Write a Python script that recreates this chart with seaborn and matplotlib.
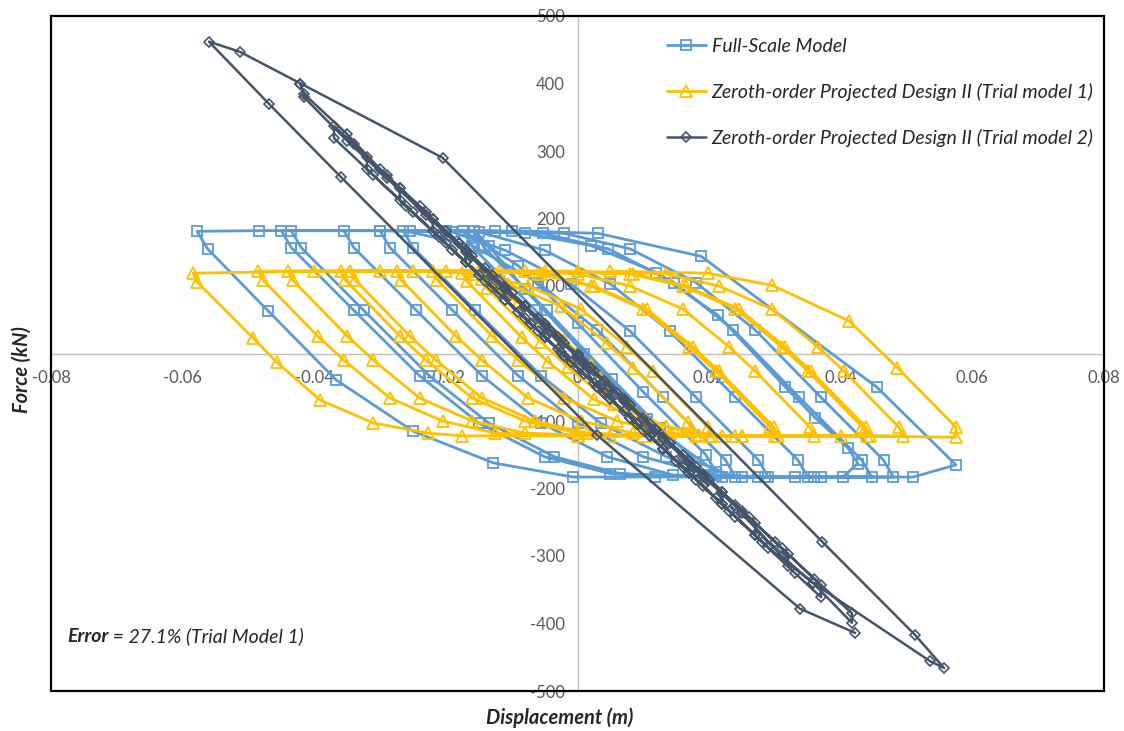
import matplotlib
matplotlib.use("Agg")
import matplotlib.pyplot as plt
from matplotlib.patches import Rectangle
import seaborn as sns

###############################################################################
# data (displacement in m, force in kN)

# Full-Scale Model
fs_disp = [0.0, 0.006, 0.012,
           0.0105, 0.001, -0.008, -0.0135, -0.0157,
           -0.0142, -0.0047, 0.0053, 0.014, 0.021,
           0.0195, 0.010, 0.000, -0.009, -0.0174,
           -0.0159, -0.0064, 0.0036, 0.0126, 0.018, 0.024,
           0.0225, 0.013, 0.003, -0.006, -0.016, -0.0265,
           -0.025, -0.0155, -0.0055, 0.0035, 0.0135, 0.021, 0.029,
           0.0275, 0.018, 0.008, -0.001, -0.011, -0.019, -0.030,
           -0.0285, -0.019, -0.009, 0.000, 0.010, 0.020, 0.0275, 0.035,
           0.0335, 0.024, 0.014, 0.005, -0.005, -0.015, -0.0255, -0.0355,
           -0.034, -0.0245, -0.0145, -0.0055, 0.0045, 0.0145, 0.0285, 0.0403, 0.0426,
           0.0411, 0.0361, 0.0316, 0.0213, 0.012, 0.002, -0.008, -0.020, -0.0435,
           -0.042, -0.0325, -0.0225, -0.0135, -0.0035, 0.0065, 0.020, 0.033, 0.0447,
           0.0432, 0.0337, 0.0237, 0.0147, 0.0047, -0.0053, -0.020, -0.045,
           -0.0435, -0.034, -0.024, -0.015, -0.005, 0.005, 0.022, 0.036, 0.048,
           0.0465, 0.037, 0.027, 0.018, 0.008, -0.002, -0.0125, -0.030, -0.0484, -0.0578,
           -0.0562, -0.047, -0.0367, -0.025, -0.0128, -0.0007, 0.0117, 0.025, 0.037, 0.051, 0.0575,
           0.0455, 0.0188, 0.0031, -0.010]
fs_force = [0, -60, -120,
            -97, 0, 95, 160, 182,
            157, 64, -38, -125, -175,
            -150, -57, 45, 130, 182,
            157, 64, -38, -110, -160, -183,
            -158, -65, 35, 105, 160, 182,
            157, 64, -33, -103, -153, -180, -183,
            -158, -65, 33, 103, 153, 180, 182,
            157, 64, -33, -103, -153, -180, -183, -183,
            -158, -65, 33, 103, 153, 180, 182, 182,
            157, 64, -33, -103, -153, -180, -183, -183, -163,
            -140, -95, -50, 57, 120, 160, 178, 182, 182,
            157, 64, -33, -103, -153, -178, -183, -183, -183,
            -158, -65, 35, 105, 155, 178, 182, 182,
            157, 64, -33, -103, -153, -178, -183, -183, -183,
            -158, -65, 35, 105, 155, 178, 182, 182, 182, 181,
            155, 63, -39, -115, -162, -183, -183, -183, -183, -183, -165,
            -50, 144, 178, 182]

# Zeroth-order Projected Design II (Trial model 1)
t1_disp = [0.0, 0.005, 0.011,
           0.0103, 0.002, -0.002, -0.009, -0.0145,
           -0.0138, -0.0055, -0.0015, 0.0055, 0.0135, 0.0175,
           0.0168, 0.0085, 0.0045, -0.0025, -0.0105, -0.0175,
           -0.0168, -0.0085, -0.0045, 0.0025, 0.0105, 0.0185, 0.0205,
           0.0198, 0.0115, 0.0075, 0.0005, -0.0075, -0.0155, -0.022,
           -0.0213, -0.013, -0.009, -0.002, 0.006, 0.014, 0.022, 0.030,
           0.0293, 0.021, 0.017, 0.010, 0.002, -0.006, -0.015, -0.0275,
           -0.0268, -0.0185, -0.0145, -0.0075, 0.0005, 0.0085, 0.018, 0.0305,
           0.0298, 0.0215, 0.0175, 0.0105, 0.0025, -0.0055, -0.016, -0.0345,
           -0.0338, -0.0255, -0.0215, -0.0145, -0.0065, 0.0015, 0.010, 0.024, 0.036,
           0.0353, 0.027, 0.023, 0.016, 0.008, 0.000, -0.012, -0.036,
           -0.0353, -0.027, -0.023, -0.016, -0.008, 0.000, 0.012, 0.030, 0.044,
           0.0433, 0.035, 0.031, 0.024, 0.016, 0.008, -0.005, -0.025, -0.044,
           -0.0433, -0.035, -0.031, -0.024, -0.016, -0.008, 0.005, 0.025, 0.0445,
           0.0438, 0.0355, 0.0315, 0.0245, 0.0165, 0.0085, -0.008, -0.030, -0.0485,
           -0.0478, -0.0395, -0.0355, -0.0285, -0.0205, -0.0125, 0.000, 0.025, 0.0495,
           0.0488, 0.0405, 0.0365, 0.0295, 0.0215, 0.0135, 0.000, -0.020, -0.040, -0.0584,
           -0.0578, -0.0493, -0.0457, -0.0391, -0.031, -0.0227, -0.0175, 0.000, 0.020, 0.040, 0.0575,
           0.0575, 0.0486, 0.0413, 0.0296, 0.0198, 0.005]
t1_force = [0, -50, -110,
            -97, -17, 20, 75, 110,
            97, 17, -20, -75, -108, -115,
            -102, -21, 15, 70, 103, 120,
            107, 24, -12, -68, -102, -120, -122,
            -109, -26, 10, 66, 100, 118, 122,
            109, 26, -10, -66, -100, -118, -122, -122,
            -109, -26, 10, 66, 100, 118, 122, 122,
            109, 26, -10, -66, -100, -118, -122, -122,
            -109, -26, 10, 66, 100, 118, 122, 122,
            109, 26, -10, -66, -100, -118, -122, -122, -122,
            -109, -26, 10, 66, 100, 118, 122, 122,
            109, 26, -10, -66, -100, -118, -122, -122, -122,
            -109, -26, 10, 66, 100, 118, 122, 122, 122,
            109, 26, -10, -66, -100, -118, -122, -122, -122,
            -109, -26, 10, 66, 100, 118, 122, 122, 122,
            109, 26, -10, -66, -100, -118, -122, -122, -122,
            -109, -26, 10, 66, 100, 118, 122, 122, 122, 119,
            106, 23, -13, -69, -103, -118, -122, -122, -122, -122, -124,
            -109, -21, 48, 101, 119, 122]

# Zeroth-order Projected Design II (Trial model 2)
t2_disp = [0.0, 0.0025, 0.005,
           0.005, 0.0025, 0.0, -0.0025, -0.005,
           -0.005, -0.0025, 0.0, 0.004, 0.008, 0.011,
           0.011, 0.008, 0.004, 0.0, -0.004, -0.008, -0.011,
           -0.011, -0.006, -0.001, 0.004, 0.009, 0.013, 0.017,
           0.017, 0.012, 0.007, 0.002, -0.003, -0.008, -0.013, -0.017,
           -0.017, -0.012, -0.007, -0.002, 0.003, 0.008, 0.013, 0.018, 0.022,
           0.022, 0.017, 0.012, 0.007, 0.002, -0.003, -0.008, -0.013, -0.018, -0.022,
           -0.022, -0.017, -0.011, -0.005, 0.001, 0.007, 0.013, 0.019, 0.024, 0.027,
           0.027, 0.022, 0.016, 0.010, 0.004, -0.002, -0.008, -0.014, -0.020, -0.027,
           -0.027, -0.021, -0.015, -0.009, -0.003, 0.003, 0.009, 0.015, 0.021, 0.027, 0.032,
           0.032, 0.026, 0.020, 0.014, 0.008, 0.002, -0.004, -0.010, -0.016, -0.022, -0.027, -0.032,
           -0.032, -0.026, -0.020, -0.014, -0.008, -0.002, 0.004, 0.010, 0.016, 0.022, 0.028, 0.033, 0.037,
           0.037, 0.031, 0.025, 0.019, 0.013, 0.007, 0.001, -0.005, -0.011, -0.017, -0.023, -0.029, -0.034, -0.037,
           -0.037, -0.031, -0.025, -0.019, -0.013, -0.007, -0.001, 0.005, 0.011, 0.017, 0.023, 0.029, 0.0358, 0.0417,
           0.0417, 0.036, 0.030, 0.024, 0.018, 0.012, 0.006, 0.000, -0.006, -0.012, -0.018, -0.024, -0.030, -0.035, -0.0416, -0.0421,
           -0.0416, -0.035, -0.029, -0.023, -0.017, -0.011, -0.005, 0.001, 0.007, 0.013, 0.019, 0.025, 0.031, 0.0358, 0.0536, 0.0557,
           0.0513, 0.0372, -0.0205, -0.0421, -0.0513, -0.056,
           -0.0468, -0.0359, 0.003, 0.0338, 0.0422]
t2_force = [0, -44, -67,
            -49, -26, -3, 20, 43,
            25, 2, -21, -58, -95, -122,
            -104, -77, -40, -3, 34, 71, 98,
            80, 34, -12, -58, -104, -141, -177,
            -159, -113, -67, -21, 25, 71, 117, 153,
            135, 89, 43, -3, -49, -95, -141, -187, -223,
            -205, -159, -113, -67, -21, 25, 71, 117, 163, 199,
            181, 135, 80, 25, -30, -85, -141, -196, -242, -269,
            -251, -205, -150, -95, -40, 15, 71, 126, 181, 245,
            227, 172, 117, 62, 7, -49, -104, -159, -214, -269, -315,
            -297, -242, -187, -132, -77, -21, 34, 89, 144, 199, 245, 291,
            273, 218, 163, 108, 53, -3, -58, -113, -168, -223, -279, -325, -361,
            -343, -288, -233, -178, -123, -67, -12, 43, 98, 153, 209, 264, 310, 337,
            319, 264, 209, 154, 99, 43, -12, -67, -122, -177, -233, -288, -340, -399,
            -385, -334, -279, -224, -168, -113, -58, -3, 52, 107, 163, 218, 273, 325, 385, 400,
            380, 315, 260, 205, 150, 95, 40, -15, -70, -126, -181, -236, -300, -340, -456, -466,
            -417, -279, 290, 400, 447, 462,
            369, 261, -121, -378, -414]

series_names = ["Full-Scale Model",
                "Zeroth-order Projected Design II (Trial model 1)",
                "Zeroth-order Projected Design II (Trial model 2)"]
x_ticks = [-0.08, -0.06, -0.04, -0.02, 0, 0.02, 0.04, 0.06, 0.08]
x_tick_labels = ["-0.08", "-0.06", "-0.04", "-0.02", "0", "0.02", "0.04", "0.06", "0.08"]
y_ticks = [-500, -400, -300, -200, -100, 0, 100, 200, 300, 400, 500]
y_tick_labels = [str(v) for v in y_ticks]

###############################################################################

sns.set_style("white")
plt.rcParams['font.family'] = ['Lato', 'DejaVu Sans']

fig = plt.figure(figsize=(11.24, 7.31), dpi=100)
ax = fig.add_axes([51/1124, 40/731, 1053/1124, 675/731])

blue = "#5B9BD5"
gold = "#FFC000"
navy = "#44546A"

sns.lineplot(x=fs_disp, y=fs_force, sort=False, estimator=None, ax=ax,
             color=blue, linewidth=2.0, marker="s", markersize=7,
             markerfacecolor="none", markeredgecolor=blue, markeredgewidth=1.3,
             label=series_names[0])
sns.lineplot(x=t1_disp, y=t1_force, sort=False, estimator=None, ax=ax,
             color=gold, linewidth=2.0, marker="^", markersize=8,
             markerfacecolor="none", markeredgecolor=gold, markeredgewidth=1.3,
             label=series_names[1])
sns.lineplot(x=t2_disp, y=t2_force, sort=False, estimator=None, ax=ax,
             color=navy, linewidth=1.8, marker="D", markersize=5,
             markerfacecolor="none", markeredgecolor=navy, markeredgewidth=1.2,
             label=series_names[2])

ax.set_xlim(-0.08, 0.08)
ax.set_ylim(-500, 500)

# axes crossing at zero, gray, behind the data
for side in ["left", "bottom"]:
    ax.spines[side].set_position("zero")
    ax.spines[side].set_color("#BFBFBF")
    ax.spines[side].set_linewidth(1.0)
    ax.spines[side].set_zorder(0.5)
for side in ["top", "right"]:
    ax.spines[side].set_visible(False)

ax.add_patch(Rectangle((0, 0), 1, 1, transform=ax.transAxes, fill=False,
                       edgecolor="black", linewidth=1.6, clip_on=False, zorder=5))

ax.set_xticks(x_ticks)
ax.set_xticklabels(x_tick_labels)
ax.set_yticks(y_ticks)
ax.set_yticklabels(y_tick_labels)
ax.tick_params(axis="both", length=0, labelsize=12, labelcolor="#595959")
ax.tick_params(axis="x", pad=12)
ax.tick_params(axis="y", pad=9)
ax.set_xlabel("")
ax.set_ylabel("")

leg = ax.legend(loc="upper left", bbox_to_anchor=(0.585, 0.968), frameon=False,
                borderaxespad=0, borderpad=0, handlelength=2.0, handletextpad=0.3,
                labelspacing=1.45, prop={"style": "italic", "size": 14})

fig.text(22/1124, 1 - 370/731, "Force (kN)", rotation=90, ha="center", va="center",
         fontsize=14.5, fontweight="bold", fontstyle="italic")
fig.text(560/1124, 1 - 718/731, "Displacement (m)", ha="center", va="center",
         fontsize=14.5, fontweight="bold", fontstyle="italic")

err = ax.text(0.015, 0.081, "Error", transform=ax.transAxes, ha="left", va="center",
              fontsize=14, fontweight="bold", fontstyle="italic")
ax.annotate(" = 27.1% (Trial Model 1)", xy=(1, 0), xycoords=err, ha="left", va="bottom",
            fontsize=14, fontstyle="italic")

plt.savefig("out.png", dpi=100)
